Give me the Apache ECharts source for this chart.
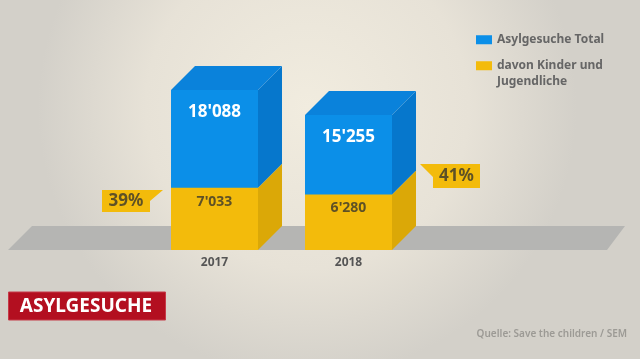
<!DOCTYPE html>
<html>
<head>
<meta charset="utf-8">
<script src="https://cdn.jsdelivr.net/npm/echarts@6/dist/echarts.min.js"></script>
<style>
html,body{margin:0;padding:0;background:#e6e2d9;}
#chart{width:640px;height:359px;}
</style>
</head>
<body>
<div id="chart"></div>
<script>
// ---- data ----
const categories = ['2017', '2018'];
const totalValues = [18088, 15255];
const youthValues = [7033, 6280];
const shareLabels = ['39%', '41%'];
const seriesNames = ['Asylgesuche Total', 'davon Kinder und Jugendliche'];
const titleText = 'ASYLGESUCHE';
const sourceText = 'Quelle: Save the children / SEM';

// ---- style ----
const FONT = 'Noto Sans';
const BLUE = '#0b8fe8', BLUE_TOP = '#0a82db', BLUE_SIDE = '#0677cc';
const YEL = '#f3bb0b', YEL_SIDE = '#dba807';
const OLIVE = '#5e5126';
const BAR_W = 87, DX = 24, DY = -24;

function fmt(v) { return String(v).replace(/\B(?=(\d{3})+(?!\d))/g, "'"); }

const chart = echarts.init(document.getElementById('chart'), null, {renderer: 'canvas'});

const option = {
  animation: false,
  textStyle: {fontFamily: FONT},
  grid: {left: 147.5, width: 268, top: 73.1, bottom: 109, outerBoundsMode: 'none', containLabel: false},
  xAxis: {
    type: 'category', data: categories,
    axisLine: {show: false}, axisTick: {show: false}, splitLine: {show: false},
    axisLabel: {color: '#555', fontWeight: 'bold', fontSize: 12, margin: 7, fontFamily: FONT}
  },
  yAxis: {type: 'value', min: 0, max: 20000, show: false, splitLine: {show: false}},
  legend: {
    orient: 'vertical', left: 476, top: 32, padding: 0,
    itemWidth: 16, itemHeight: 9, itemGap: -5, icon: 'rect',
    textStyle: {color: '#666', fontWeight: 'bold', fontSize: 12, fontFamily: FONT, lineHeight: 15.5},
    data: [{name: seriesNames[0]}, {name: seriesNames[1]}],
    formatter: function (n) { return n === seriesNames[1] ? '\ndavon Kinder und\nJugendliche' : n; },
    selectedMode: false
  },
  graphic: {elements: [
    {type: 'rect', z: -100, silent: true, shape: {x: 0, y: 0, width: 640, height: 359},
     style: {fill: new echarts.graphic.RadialGradient(0.48, 0.3, 0.75, [
       {offset: 0, color: '#f1ecdf'}, {offset: 0.6, color: '#e7e2d7'}, {offset: 1, color: '#d3d0c9'}])}},
    {type: 'polygon', z: -50, silent: true,
     shape: {points: [[8, 250], [32, 226], [625, 226], [607, 250]]}, style: {fill: '#b5b5b3'}},
    {type: 'group', z: 100, children: [
      {type: 'polygon', shape: {points: [[102, 190], [163, 190], [150, 201], [150, 212], [102, 212]]}, style: {fill: YEL}},
      {type: 'text', x: 126, y: 201.5, style: {text: shareLabels[0], fill: OLIVE, font: 'bold 17px "Noto Sans"', align: 'center', verticalAlign: 'middle'}}
    ]},
    {type: 'group', z: 100, children: [
      {type: 'polygon', shape: {points: [[420, 164], [480, 164], [480, 188], [433, 188], [433, 177]]}, style: {fill: YEL}},
      {type: 'text', x: 456.5, y: 176.5, style: {text: shareLabels[1], fill: OLIVE, font: 'bold 17px "Noto Sans"', align: 'center', verticalAlign: 'middle'}}
    ]},
    {type: 'group', z: 100, children: [
      {type: 'rect', shape: {x: 8.5, y: 292, width: 157, height: 28}, style: {fill: '#b30f20', stroke: '#c63a48', lineWidth: 1}},
      {type: 'text', x: 86, y: 306.5, style: {text: titleText, fill: '#fff', font: 'bold 19px "Noto Sans"', align: 'center', verticalAlign: 'middle'}}
    ]},
    {type: 'text', z: 100, x: 627, y: 334, style: {text: sourceText, fill: '#9c9a95', font: '600 10px "Noto Sans"', align: 'right', verticalAlign: 'middle'}}
  ]},
  series: [
    {
      name: seriesNames[0], type: 'bar', data: totalValues, barWidth: BAR_W, z: 3,
      itemStyle: {color: BLUE},
      label: {show: true, position: 'insideTop', distance: 12, formatter: p => fmt(p.value),
        color: '#fff', fontWeight: 'bold', fontSize: 17, lineHeight: 20, fontFamily: FONT}
    },
    {
      name: seriesNames[1], type: 'bar', data: youthValues, barWidth: BAR_W, barGap: '-100%', z: 4,
      itemStyle: {color: YEL},
      label: {show: true, position: 'insideTop', distance: 6, formatter: p => fmt(p.value),
        color: OLIVE, fontWeight: 'bold', fontSize: 14, lineHeight: 16, fontFamily: FONT}
    },
    {
      type: 'custom', silent: true, z: 2,
      data: categories.map((c, i) => [i, totalValues[i], youthValues[i]]),
      encode: {x: 0, y: 1},
      renderItem: function (params, api) {
        const i = api.value(0);
        const pT = api.coord([i, api.value(1)]);
        const pK = api.coord([i, api.value(2)]);
        const p0 = api.coord([i, 0]);
        const L = pT[0] - BAR_W / 2, R = pT[0] + BAR_W / 2;
        const yT = pT[1], yK = pK[1], y0 = p0[1];
        return {type: 'group', children: [
          {type: 'polygon', shape: {points: [[R, y0], [R + DX, y0 + DY], [R + DX, yK + DY], [R, yK]]}, style: {fill: YEL_SIDE}},
          {type: 'polygon', shape: {points: [[R, yK], [R + DX, yK + DY], [R + DX, yT + DY], [R, yT]]}, style: {fill: BLUE_SIDE}},
          {type: 'polygon', shape: {points: [[L, yT], [L + DX, yT + DY], [R + DX, yT + DY], [R, yT]]}, style: {fill: BLUE_TOP}}
        ]};
      }
    }
  ]
};
chart.setOption(option);
</script>
</body>
</html>
